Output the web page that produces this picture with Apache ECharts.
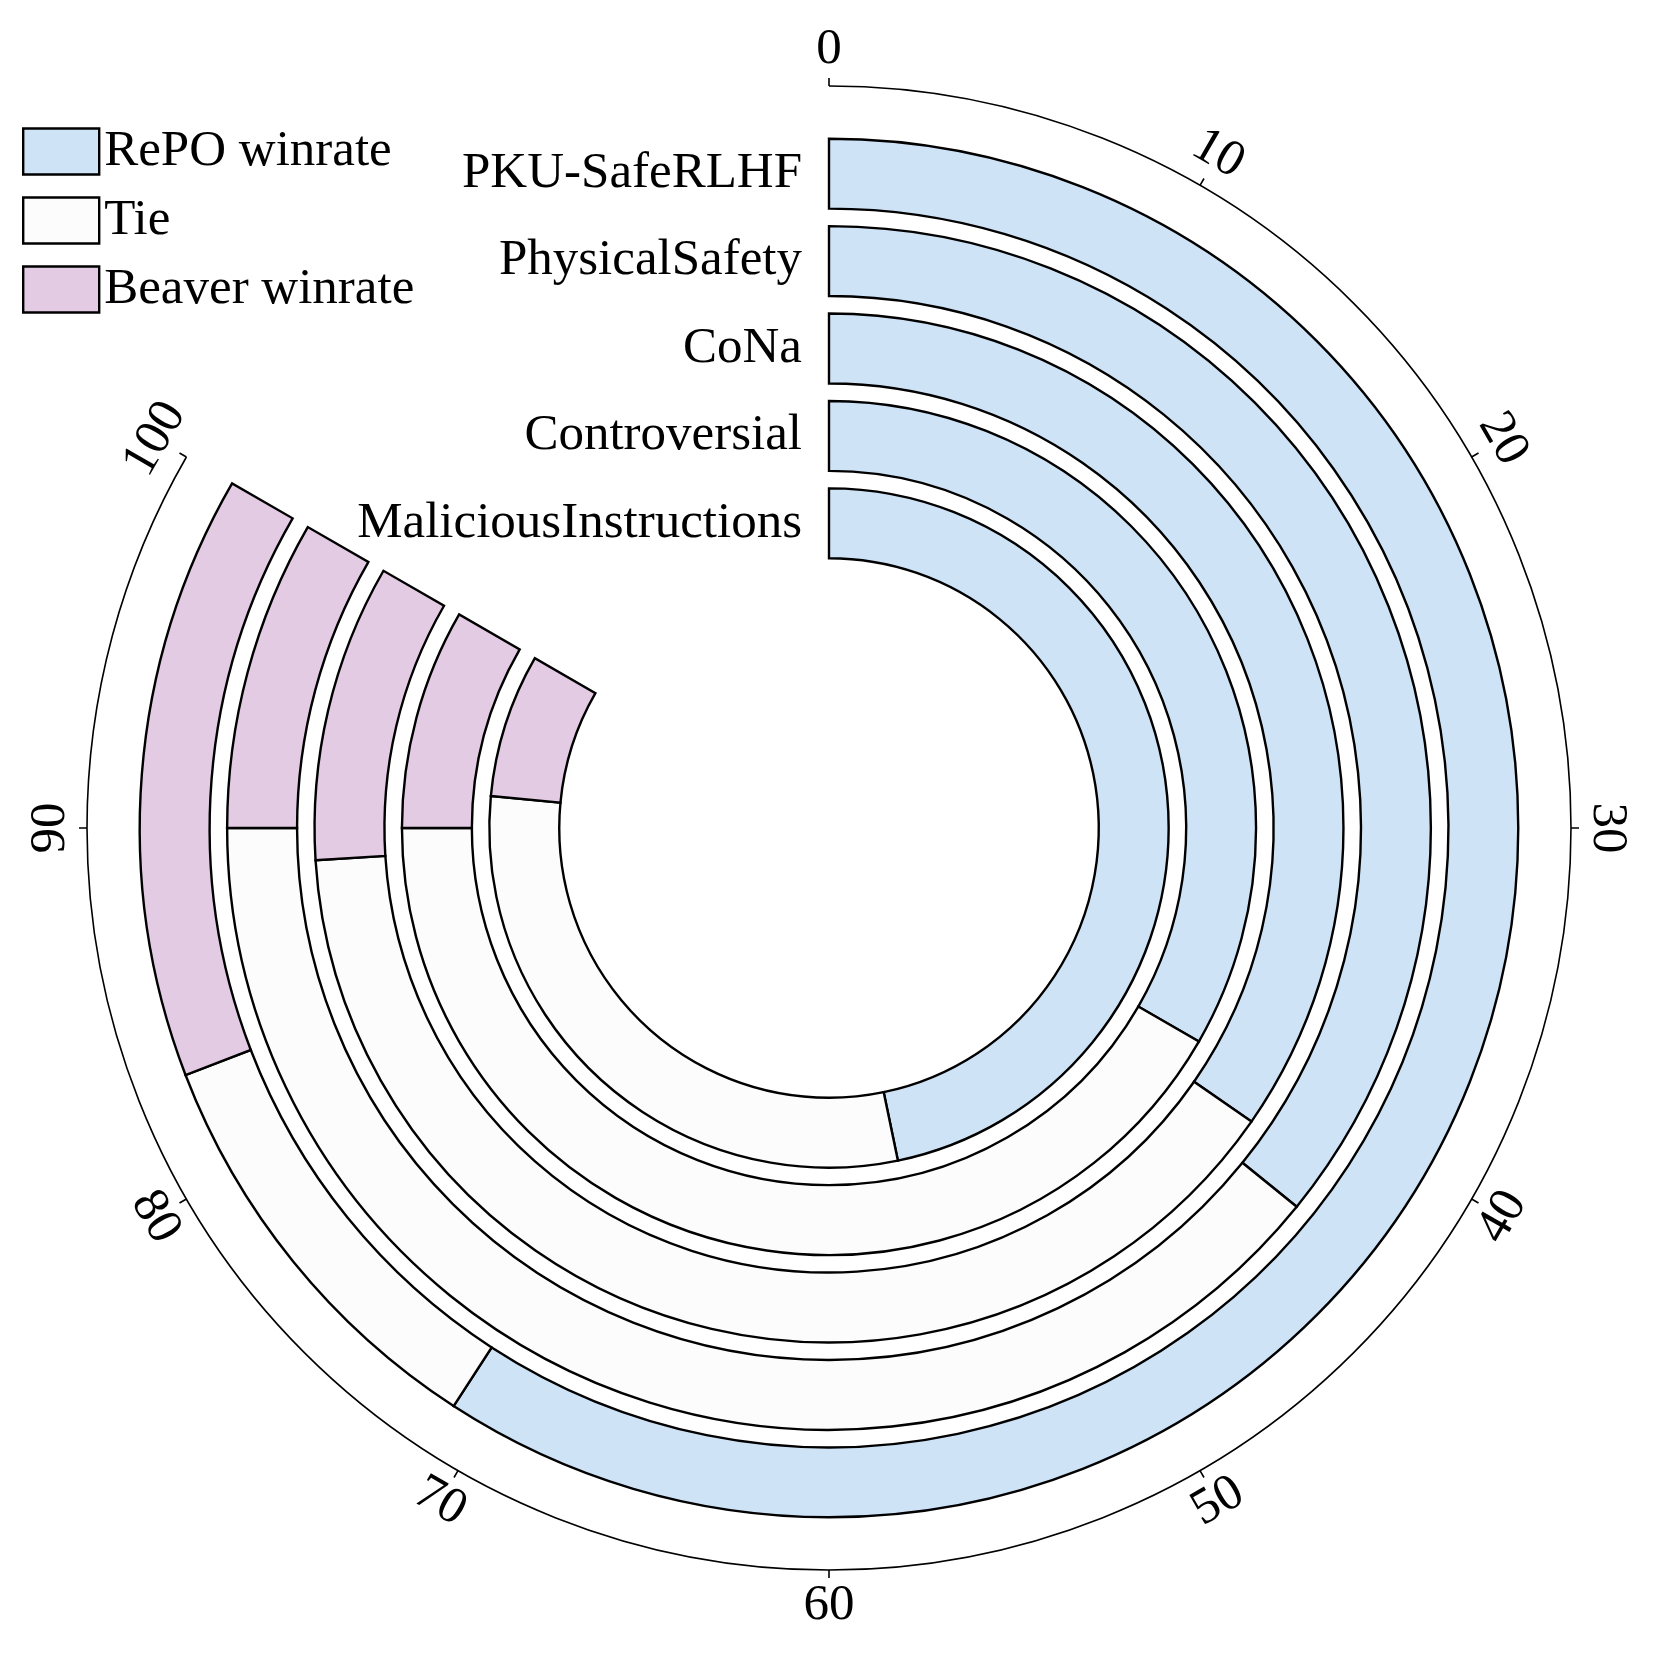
<!DOCTYPE html>
<html><head><meta charset="utf-8">
<script src="https://cdn.jsdelivr.net/npm/echarts@6/dist/echarts.min.js"></script>
<style>html,body{margin:0;padding:0;background:#fff}#chart{width:1661px;height:1658px}</style>
</head><body><div id="chart"></div>
<script>
// Categories, inner ring -> outer ring
const categories = ['MaliciousInstructions', 'Controversial', 'CoNa', 'PhysicalSafety', 'PKU-SafeRLHF'];
const repoWinrate = [56.1, 40.0, 41.6, 43.0, 71.0];
const tieRate = [35.7, 50.0, 47.2, 47.0, 12.0];
const beaverWinrate = [8.2, 10.0, 11.2, 10.0, 17.0];
const angleTicks = [0, 10, 20, 30, 40, 50, 60, 70, 80, 90, 100];
const seriesNames = ['RePO winrate', 'Tie', 'Beaver winrate'];

const FONT = '"Liberation Serif", "Times New Roman", serif';
const FS = 51;
const CX = 829, CY = 828;
const LABEL_R = 778;

const chart = echarts.init(document.getElementById('chart'), null, {renderer: 'canvas'});

function barSeries(name, data, color) {
  return {
    type: 'bar', name: name, coordinateSystem: 'polar', polarIndex: 0, stack: 'total',
    data: data, barCategoryGap: '20%',
    itemStyle: {color: color, borderColor: '#000', borderWidth: 2.4},
    emphasis: {disabled: true}
  };
}

const option = {
  animation: false,
  backgroundColor: '#fff',
  polar: [
    {center: [CX, CY], radius: [261, 698]},
    {center: [CX, CY], radius: [0, 742]}
  ],
  angleAxis: [
    {polarIndex: 0, type: 'value', min: 0, max: 100, startAngle: 90, endAngle: -210, clockwise: true,
     axisLine: {show: false}, axisTick: {show: false}, axisLabel: {show: false}, splitLine: {show: false}},
    {polarIndex: 1, type: 'value', min: 0, max: 100, interval: 10, startAngle: 90, endAngle: -210, clockwise: true,
     axisLine: {show: true, lineStyle: {color: '#000', width: 1.6}},
     axisTick: {show: true, length: 8, lineStyle: {color: '#000', width: 1.6}},
     axisLabel: {show: false}, splitLine: {show: false}}
  ],
  radiusAxis: [
    {polarIndex: 0, type: 'category', data: categories,
     axisLine: {show: false}, axisTick: {show: false}, splitLine: {show: false},
     axisLabel: {interval: 0, hideOverlap: false, margin: 27, color: '#000', fontFamily: FONT, fontSize: FS,
                 padding: [11, 0, 0, 0]}},
    {polarIndex: 1, type: 'value', min: 0, max: 1, show: false,
     axisLine: {show: false}, axisTick: {show: false}, axisLabel: {show: false}, splitLine: {show: false}}
  ],
  legend: {
    orient: 'vertical', left: 22, top: 126, padding: 0,
    itemWidth: 76, itemHeight: 46, itemGap: 18, icon: 'rect',
    data: seriesNames,
    itemStyle: {borderColor: '#000', borderWidth: 2.4},
    textStyle: {fontFamily: FONT, fontSize: FS, color: '#000', lineHeight: 37, padding: [9, 0, 0, 0]}
  },
  series: [
    barSeries(seriesNames[0], repoWinrate, '#cfe3f7'),
    barSeries(seriesNames[1], tieRate, '#fcfcfc'),
    barSeries(seriesNames[2], beaverWinrate, '#e2cbe3'),
    {
      type: 'custom', coordinateSystem: 'polar', polarIndex: 1, silent: true,
      data: angleTicks.map(v => [1, v]),
      renderItem: function (params, api) {
        const v = api.value(1);
        const p = api.coord([1, v]);
        const cs = params.coordSys;
        const dx = p[0] - cs.cx, dy = p[1] - cs.cy;
        const len = Math.sqrt(dx * dx + dy * dy) || 1;
        const x = cs.cx + dx / len * LABEL_R;
        const y = cs.cy + dy / len * LABEL_R;
        let ang = Math.atan2(dx, -dy) * 180 / Math.PI;
        if (ang < 0) ang += 360;
        let rot = ang;
        if (ang > 90.5 && ang < 269.5) rot = ang - 180;
        return {
          type: 'text', x: x, y: y, rotation: -rot * Math.PI / 180,
          style: {text: String(v), fontFamily: FONT, fontSize: FS, fill: '#000', align: 'center',
                  verticalAlign: 'middle', padding: [5, 0, 0, 0]}
        };
      }
    }
  ]
};
chart.setOption(option);
</script>
</body></html>
